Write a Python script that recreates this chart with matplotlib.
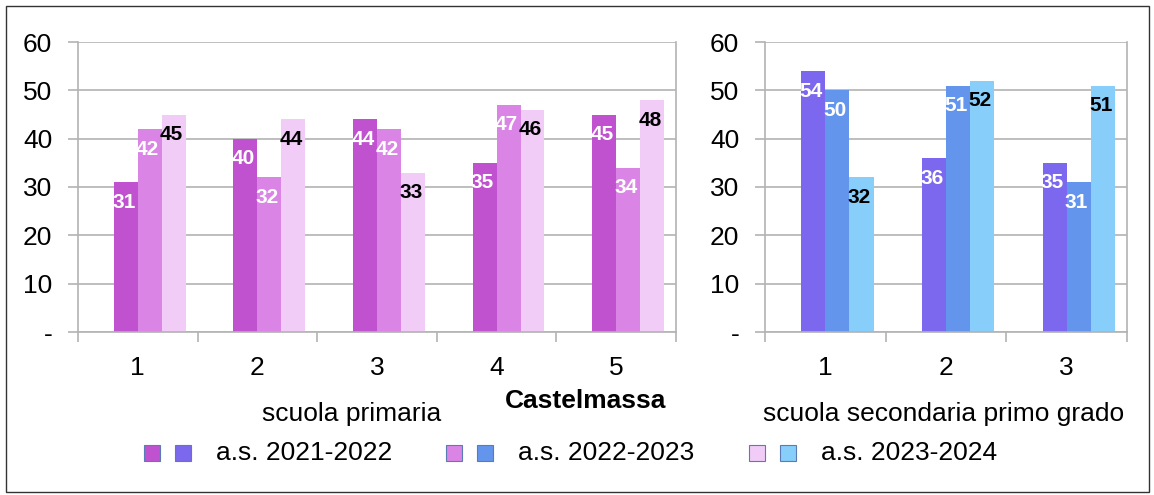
import matplotlib.pyplot as plt
from matplotlib.patches import Rectangle
import numpy as np

plt.rcParams['font.family'] = ['Liberation Sans', 'DejaVu Sans']

# data
years = ["a.s. 2021-2022", "a.s. 2022-2023", "a.s. 2023-2024"]
prim_cats = ["1", "2", "3", "4", "5"]
prim_2122 = [31, 40, 44, 35, 45]
prim_2223 = [42, 32, 42, 47, 34]
prim_2324 = [45, 44, 33, 46, 48]
sec_cats = ["1", "2", "3"]
sec_2122 = [54, 36, 35]
sec_2223 = [50, 51, 31]
sec_2324 = [32, 52, 51]
yticks = [0, 10, 20, 30, 40, 50, 60]
ytick_labels = ["-", "10", "20", "30", "40", "50", "60"]

prim_colors = ["#C052D0", "#DA85E6", "#F1CCF7"]
sec_colors = ["#7B68EE", "#6495ED", "#87CEFA"]
label_colors = ["white", "white", "black"]
grid_col = "#b3b3b3"

W, H = 1154, 495
fig = plt.figure(figsize=(W / 100, H / 100), dpi=100)


def fx(x):
    return x / W


def fy(y):
    return 1 - y / H


def draw_panel(rect, cats, series, colors):
    ax = fig.add_axes(rect)
    x = np.arange(len(cats))
    width = 0.2
    offsets = [-0.1, 0.1, 0.3]  # first slot of four is an empty series
    for vals, off, col, lc in zip(series, offsets, colors, label_colors):
        ax.bar(x + off, vals, width, color=col, zorder=2)
        for xi, v in zip(x + off, vals):
            ax.annotate(str(v), (xi, v), xytext=(-1.5, -14.5), textcoords='offset points',
                        ha='center', va='center', fontsize=15, fontweight='bold',
                        color=lc, zorder=3)
    ax.set_xlim(-0.5, len(cats) - 0.5)
    ax.set_ylim(0, 60)
    ax.set_yticks(yticks)
    ax.set_yticklabels(ytick_labels)
    ax.yaxis.grid(True, color=grid_col, lw=1.2, zorder=0)
    ax.set_xticks(np.arange(len(cats) + 1) - 0.5)
    ax.set_xticklabels([])
    ax.set_xticks(x, minor=True)
    ax.set_xticklabels(cats, minor=True)
    ax.tick_params(axis='x', which='major', length=7.5, color=grid_col, width=1.2)
    ax.tick_params(axis='x', which='minor', length=0, pad=17, labelsize=19)
    ax.tick_params(axis='y', length=7.5, color=grid_col, width=1.2, pad=11, labelsize=19)
    ax.spines['top'].set_visible(False)
    for s in ['left', 'right', 'bottom']:
        ax.spines[s].set_color(grid_col)
        ax.spines[s].set_linewidth(1.2)
    return ax


top, bottom = 42, 332
draw_panel([fx(78), fy(bottom), fx(676 - 78), (bottom - top) / H],
           prim_cats, [prim_2122, prim_2223, prim_2324], prim_colors)
draw_panel([fx(765), fy(bottom), fx(1127 - 765), (bottom - top) / H],
           sec_cats, [sec_2122, sec_2223, sec_2324], sec_colors)

# texts under the panels
fig.text(fx(352), fy(414), "scuola primaria", ha='center', va='center', fontsize=19)
fig.text(fx(586), fy(401), "Castelmassa", ha='center', va='center', fontsize=19,
         fontweight='bold')
fig.text(fx(944), fy(414), "scuola secondaria primo grado", ha='center', va='center',
         fontsize=19)

# legend
leg_x = [152, 454, 757]
for lx, name, pc, sc in zip(leg_x, years, prim_colors, sec_colors):
    for dx, c in [(0, pc), (31, sc)]:
        fig.patches.append(Rectangle((fx(lx + dx - 8), fy(461)), fx(16), 16 / H,
                                     transform=fig.transFigure, facecolor=c,
                                     edgecolor="#5a7bb5", lw=0.8))
    fig.text(fx(lx + 64), fy(453), name, ha='left', va='center', fontsize=19)

# outer border
fig.patches.append(Rectangle((fx(6), fy(492)), fx(1143), 486 / H, transform=fig.transFigure,
                             fill=False, edgecolor="#333333", lw=1))

fig.savefig("out.png", dpi=100)
